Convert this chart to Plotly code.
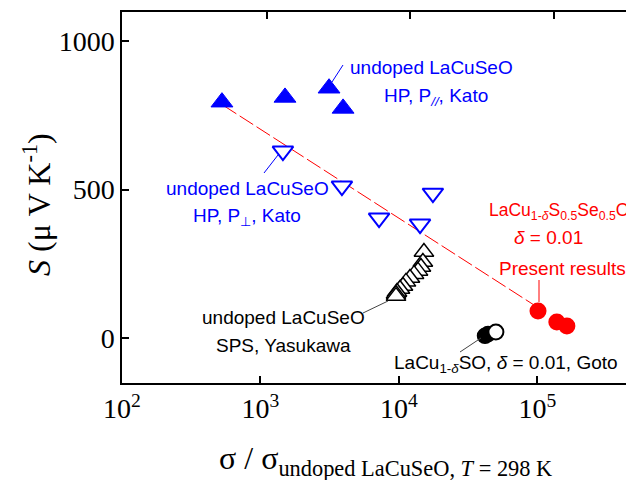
import plotly.graph_objects as go

# ---- data ----
kato_par_x = [527, 1503, 3126, 3948]
kato_par_y = [795, 811, 842, 774]

kato_perp_x = [1452, 3873, 7180, 14190, 17580]
kato_perp_y = [630, 512, 404, 384, 488]

yasu_x = [15140, 14880, 14410, 13720, 12840, 12000, 11230, 10690, 10170, 9680, 9520, 9520]
yasu_y = [290, 256, 239, 226, 215, 202, 189, 175, 165, 155, 148, 141]

goto_filled_x = [41800, 43950]
goto_filled_y = [7, 13]
goto_open_x = [50100]
goto_open_y = [20]

present_x = [100900, 138000, 163000]
present_y = [91, 54, 40]

fit_x = [535, 94400]
fit_y = [785, 111]

x_tickvals = [1e2, 1e3, 1e4, 1e5]
x_ticktext = ["10<sup>2</sup>", "10<sup>3</sup>", "10<sup>4</sup>", "10<sup>5</sup>"]
y_tickvals = [0, 500, 1000]

BLUE = "#0000FF"
RED = "#FF0000"
SERIF = "Liberation Serif, Times New Roman, serif"
SANS = "Liberation Sans, Arial, sans-serif"

fig = go.Figure()

fig.add_trace(go.Scatter(x=fit_x, y=fit_y, mode="lines",
                         line=dict(color=RED, width=1, dash="16px,4px"),
                         hoverinfo="skip"))
fig.add_trace(go.Scatter(x=kato_par_x, y=kato_par_y, mode="markers",
                         marker=dict(symbol="triangle-up", size=19, color=BLUE,
                                     line=dict(color=BLUE, width=1))))
fig.add_trace(go.Scatter(x=kato_perp_x, y=kato_perp_y, mode="markers",
                         marker=dict(symbol="triangle-down", size=18, color="white",
                                     line=dict(color=BLUE, width=2))))
fig.add_trace(go.Scatter(x=yasu_x, y=yasu_y, mode="markers",
                         marker=dict(symbol="triangle-up", size=17, color="white",
                                     line=dict(color="black", width=1.5))))
fig.add_trace(go.Scatter(x=goto_filled_x, y=goto_filled_y, mode="markers",
                         marker=dict(symbol="circle", size=15, color="black",
                                     line=dict(color="black", width=1.5))))
fig.add_trace(go.Scatter(x=goto_open_x, y=goto_open_y, mode="markers",
                         marker=dict(symbol="circle", size=15, color="white",
                                     line=dict(color="black", width=2))))
fig.add_trace(go.Scatter(x=present_x, y=present_y, mode="markers",
                         marker=dict(symbol="circle", size=17, color=RED,
                                     line=dict(color=RED, width=0))))
# invisible trace for top axis
fig.add_trace(go.Scatter(x=[1e3], y=[0], xaxis="x2", mode="markers",
                         marker=dict(opacity=0), hoverinfo="skip"))

# page offset (browser body margin) compensation
OFF = 8
X0, W, Y0, H = 122, 512, 12, 371


def px(x):
    return (x - X0) / W


def py(y):
    return (Y0 + H - y) / H


anns = []


def txt(t, cx, cy, color, size=19, family=SANS, **kw):
    anns.append(dict(text=t, x=px(cx), y=py(cy), xref="paper", yref="paper",
                     xanchor="center", yanchor="middle", showarrow=False,
                     font=dict(color=color, size=size, family=family), **kw))


txt("undoped LaCuSeO", 431, 67, BLUE)
txt("HP, P<sub><i>//</i></sub>, Kato", 436, 97, BLUE)
txt("undoped LaCuSeO", 247, 188, BLUE)
txt("HP, P<sub>⊥</sub>, Kato", 247, 217, BLUE)
txt("LaCu<sub>1-<i>δ</i></sub>S<sub>0.5</sub>Se<sub>0.5</sub>O", 559, 211, RED, size=17.5)
txt("<i>δ</i> = 0.01", 548, 238, RED)
txt("Present results", 562, 268, RED)
txt("undoped LaCuSeO", 283, 317, "black")
txt("SPS, Yasukawa", 283, 345, "black")
txt("LaCu<sub>1-<i>δ</i></sub>SO, <i>δ</i> = 0.01, Goto", 506, 364, "black")

# axis titles
txt("<i>S</i> (μ V K<sup>-1</sup>)", 37, 205, "black", size=32, family=SERIF, textangle=-90)
txt("σ / σ<sub>undoped LaCuSeO, <i>T</i> = 298 K</sub>", 385, 460, "black", size=32, family=SERIF)

shapes = []


def seg(x0, y0, x1, y1, color, width=1):
    shapes.append(dict(type="line", xref="paper", yref="paper",
                       x0=px(x0), y0=py(y0), x1=px(x1), y1=py(y1),
                       line=dict(color=color, width=width)))


seg(332, 82, 343, 65, BLUE)
seg(278, 155, 264, 173, BLUE)
seg(539, 280, 539, 302, RED)
seg(363, 313, 388, 301, "#444444")
seg(460, 352, 481, 338, "#444444")

fig.update_layout(
    width=634 - OFF, height=480 - OFF,
    margin=dict(l=122 - OFF, r=0, t=12 - OFF, b=97, pad=0),
    paper_bgcolor="white", plot_bgcolor="white",
    showlegend=False,
    annotations=anns, shapes=shapes,
    xaxis=dict(type="log", range=[2, 5.697], tickvals=x_tickvals, ticktext=x_ticktext,
               ticks="inside", ticklen=7, tickwidth=1.5, tickcolor="black",
               showline=True, linewidth=1.5, linecolor="black",
               showgrid=False, zeroline=False,
               tickfont=dict(family=SERIF, size=28, color="black")),
    xaxis2=dict(type="log", overlaying="x", side="top", range=[1.990, 5.558],
                tickvals=[1e3, 1e4, 1e5], showticklabels=False,
                ticks="inside", ticklen=7, tickwidth=1.5, tickcolor="black",
                showline=True, linewidth=1.5, linecolor="black",
                showgrid=False, zeroline=False),
    yaxis=dict(range=[-152, 1099], tickvals=y_tickvals,
               ticks="inside", ticklen=7, tickwidth=1.5, tickcolor="black",
               showline=True, linewidth=1.5, linecolor="black",
               showgrid=False, zeroline=False,
               tickfont=dict(family=SERIF, size=28, color="black")),
)

fig.write_html("out.html")
